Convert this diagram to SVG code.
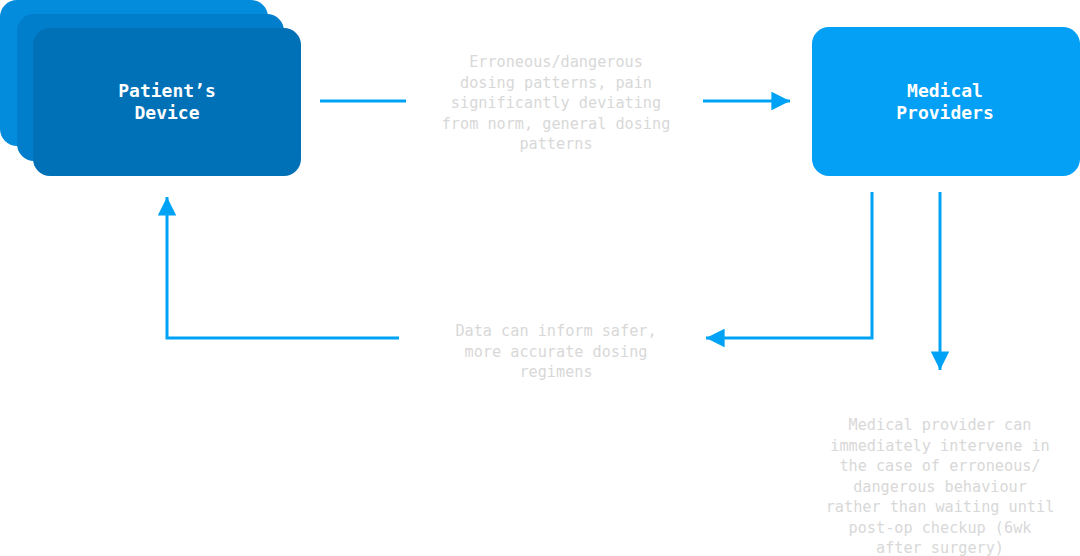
<svg xmlns="http://www.w3.org/2000/svg" width="1080" height="556" viewBox="0 0 1080 556">
<defs>
<style>
.title{font-family:"DejaVu Sans Mono","Liberation Mono",monospace;font-weight:bold;font-size:18px;fill:#ffffff;text-anchor:middle}
.lbl{font-family:"DejaVu Sans Mono","Liberation Mono",monospace;font-size:15.2px;fill:#d8d8d8;text-anchor:middle}
.conn{stroke:#00a2f5;stroke-width:3;fill:none}
</style>
<marker id="ah" viewBox="0 0 10 10" refX="10" refY="5" markerWidth="6.2" markerHeight="6.2" orient="auto" markerUnits="strokeWidth">
<path d="M0,0 L10,5 L0,10 Z" fill="#00a2f5"/>
</marker>
</defs>
<rect width="1080" height="556" fill="#ffffff"/>
<g id="patients-device">
<rect x="0" y="0" width="268" height="146" rx="17" fill="#038bdc"/>
<rect x="17" y="14" width="267" height="147" rx="17" fill="#017ecb"/>
<rect x="33" y="28" width="268" height="148" rx="17" fill="#0071b7"/>
<text class="title" x="167" y="97">Patient’s</text>
<text class="title" x="167" y="119">Device</text>
</g>
<g id="medical-providers">
<rect x="812" y="27" width="268" height="149" rx="17" fill="#03a0f5"/>
<text class="title" x="945" y="97">Medical</text>
<text class="title" x="945" y="119">Providers</text>
</g>
<g id="connectors">
<line class="conn" x1="320" y1="101" x2="406" y2="101"/>
<line class="conn" x1="703" y1="101" x2="790" y2="101" marker-end="url(#ah)"/>
<polyline class="conn" points="399,338 167,338 167,197" marker-end="url(#ah)"/>
<polyline class="conn" points="872,192 872,338 706,338" marker-end="url(#ah)"/>
<line class="conn" x1="940" y1="192" x2="940" y2="370" marker-end="url(#ah)"/>
</g>
<g id="label-top">
<text class="lbl" x="556" y="67">Erroneous/dangerous</text>
<text class="lbl" x="556" y="87.5">dosing patterns, pain</text>
<text class="lbl" x="556" y="108">significantly deviating</text>
<text class="lbl" x="556" y="128.5">from norm, general dosing</text>
<text class="lbl" x="556" y="149">patterns</text>
</g>
<g id="label-bottom">
<text class="lbl" x="556" y="336">Data can inform safer,</text>
<text class="lbl" x="556" y="356.5">more accurate dosing</text>
<text class="lbl" x="556" y="377">regimens</text>
</g>
<g id="label-right">
<text class="lbl" x="940" y="430">Medical provider can</text>
<text class="lbl" x="940" y="450.5">immediately intervene in</text>
<text class="lbl" x="940" y="471">the case of erroneous/</text>
<text class="lbl" x="940" y="491.5">dangerous behaviour</text>
<text class="lbl" x="940" y="512">rather than waiting until</text>
<text class="lbl" x="940" y="532.5">post-op checkup (6wk</text>
<text class="lbl" x="940" y="553">after surgery)</text>
</g>
</svg>
